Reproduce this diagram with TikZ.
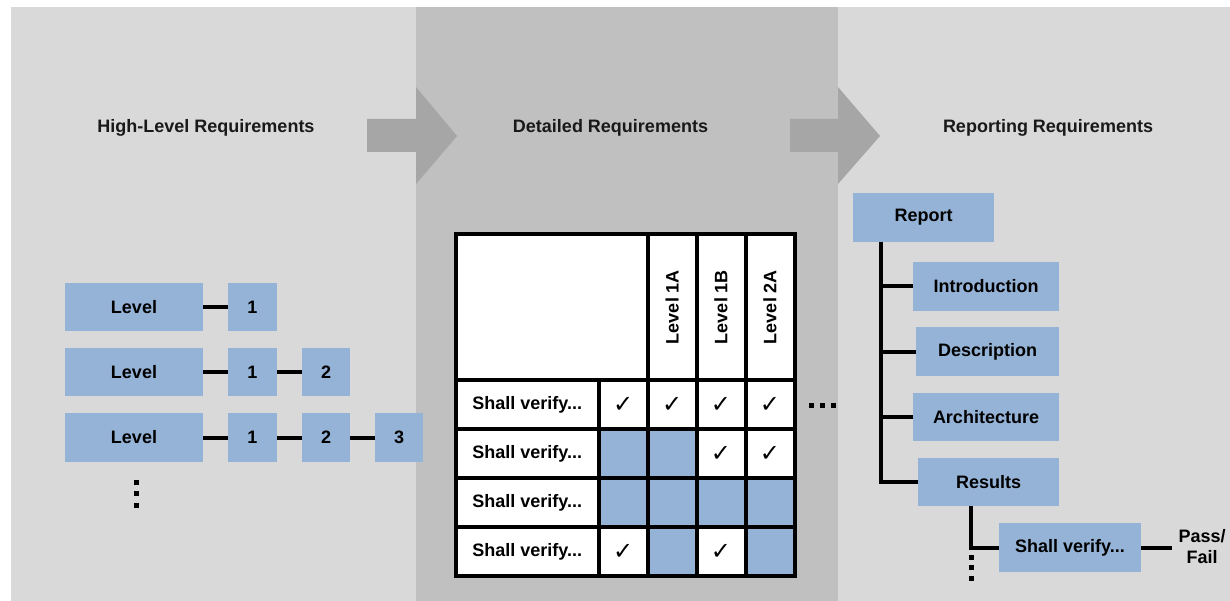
\documentclass[tikz,border=0pt]{standalone}
\usepackage{fontspec}
\setmainfont{Liberation Sans}
\newfontfamily\checkfont{DejaVu Sans}

\definecolor{panellight}{RGB}{217,217,217}
\definecolor{paneldark}{RGB}{192,192,192}
\definecolor{flowgray}{RGB}{166,166,166}
\definecolor{boxblue}{RGB}{149,179,215}

\newcommand\lab{\fontsize{18}{22}\selectfont\bfseries}
\newcommand\tickmark{{\checkfont\bfseries\fontsize{24}{24}\selectfont ✓}}

\tikzset{
  box/.style={fill=boxblue, inner sep=0pt, font=\lab, text=black},
  conn/.style={line width=4pt, black},
  title/.style={font=\lab, text=black!90},
  cell/.style={draw=black, line width=4pt, fill=white, inner sep=0pt, font=\lab},
  bluecell/.style={cell, fill=boxblue},
  vlabel/.style={font=\lab, rotate=90},
  dotsq/.style={fill=black, minimum size=5pt, inner sep=0pt},
}

\begin{document}
\begin{tikzpicture}[x=1pt, y=-1pt]
\useasboundingbox (0,0) rectangle (1230,601);

% three stage panels
\fill[panellight] (11,7) rectangle (416,601);
\fill[paneldark] (416,7) rectangle (838,601);
\fill[panellight] (838,7) rectangle (1230,601);

% block arrows between stages
\fill[flowgray] (367,119) -- (416,119) -- (416,87) -- (457,136) -- (416,184) -- (416,152) -- (367,152) -- cycle;
\fill[flowgray] (790,119) -- (838,119) -- (838,87) -- (880,136) -- (838,184) -- (838,152) -- (790,152) -- cycle;

% stage titles
\node[title] (t1) at (206,127.5) {High-Level Requirements};
\node[title] (t2) at (610.5,127.5) {Detailed Requirements};
\node[title] (t3) at (1048,127.5) {Reporting Requirements};

% ---- high-level requirement chains
\node[box, minimum width=138pt, minimum height=48pt] (lv1) at (134,307) {Level};
\node[box, minimum width=49pt, minimum height=48pt] (a1) at (252.5,307) {1};

\node[box, minimum width=138pt, minimum height=48pt] (lv2) at (134,372) {Level};
\node[box, minimum width=49pt, minimum height=48pt] (b1) at (252.5,372) {1};
\node[box, minimum width=48pt, minimum height=48pt] (b2) at (326,372) {2};

\node[box, minimum width=138pt, minimum height=49pt] (lv3) at (134,437.5) {Level};
\node[box, minimum width=49pt, minimum height=49pt] (c1) at (252.5,437.5) {1};
\node[box, minimum width=48pt, minimum height=49pt] (c2) at (326,437.5) {2};
\node[box, minimum width=48pt, minimum height=49pt] (c3) at (399,437.5) {3};

\draw[conn] (lv1.east) -- (a1.west);
\draw[conn] (lv2.east) -- (b1.west);
\draw[conn] (b1.east) -- (b2.west);
\draw[conn] (lv3.east) -- (c1.west);
\draw[conn] (c1.east) -- (c2.west);
\draw[conn] (c2.east) -- (c3.west);

\node[dotsq] (ld1) at (136.5,482.5) {};
\node[dotsq] (ld2) at (136.5,493.5) {};
\node[dotsq] (ld3) at (136.5,505) {};

% ---- detailed requirements matrix
\node[cell, minimum width=192pt, minimum height=146pt] (hd0) at (552,307) {};
\node[cell, minimum width=48.5pt, minimum height=146pt] (hd1) at (672.25,307) {};
\node[cell, minimum width=49pt, minimum height=146pt] (hd2) at (721,307) {};
\node[cell, minimum width=49pt, minimum height=146pt] (hd3) at (770,307) {};
\node[vlabel] at (hd1) {Level 1A};
\node[vlabel] at (hd2) {Level 1B};
\node[vlabel] at (hd3) {Level 2A};

\foreach \r/\y in {1/404.5, 2/453.5, 3/502.5, 4/551.5}
  \node[cell, minimum width=142.5pt, minimum height=49pt] (r\r-0) at (527.25,\y) {Shall verify...};

% row 1
\node[cell, minimum width=49.5pt, minimum height=49pt] (r1-1) at (623.25,404.5) {\tickmark};
\node[cell, minimum width=48.5pt, minimum height=49pt] (r1-2) at (672.25,404.5) {\tickmark};
\node[cell, minimum width=49pt, minimum height=49pt] (r1-3) at (721,404.5) {\tickmark};
\node[cell, minimum width=49pt, minimum height=49pt] (r1-4) at (770,404.5) {\tickmark};
% row 2
\node[bluecell, minimum width=49.5pt, minimum height=49pt] (r2-1) at (623.25,453.5) {};
\node[bluecell, minimum width=48.5pt, minimum height=49pt] (r2-2) at (672.25,453.5) {};
\node[cell, minimum width=49pt, minimum height=49pt] (r2-3) at (721,453.5) {\tickmark};
\node[cell, minimum width=49pt, minimum height=49pt] (r2-4) at (770,453.5) {\tickmark};
% row 3
\node[bluecell, minimum width=49.5pt, minimum height=49pt] (r3-1) at (623.25,502.5) {};
\node[bluecell, minimum width=48.5pt, minimum height=49pt] (r3-2) at (672.25,502.5) {};
\node[bluecell, minimum width=49pt, minimum height=49pt] (r3-3) at (721,502.5) {};
\node[bluecell, minimum width=49pt, minimum height=49pt] (r3-4) at (770,502.5) {};
% row 4
\node[cell, minimum width=49.5pt, minimum height=49pt] (r4-1) at (623.25,551.5) {\tickmark};
\node[bluecell, minimum width=48.5pt, minimum height=49pt] (r4-2) at (672.25,551.5) {};
\node[cell, minimum width=49pt, minimum height=49pt] (r4-3) at (721,551.5) {\tickmark};
\node[bluecell, minimum width=49pt, minimum height=49pt] (r4-4) at (770,551.5) {};

\node[dotsq] (md1) at (811,405) {};
\node[dotsq] (md2) at (822,405) {};
\node[dotsq] (md3) at (833,405) {};

% ---- report outline
\node[box, minimum width=141pt, minimum height=49pt] (report) at (923.5,217.5) {Report};
\node[box, minimum width=146pt, minimum height=49pt] (intro) at (986,286.5) {Introduction};
\node[box, minimum width=143pt, minimum height=49pt] (desc) at (987.5,351.5) {Description};
\node[box, minimum width=146pt, minimum height=48pt] (arch) at (986,417) {Architecture};
\node[box, minimum width=141pt, minimum height=48pt] (results) at (988.5,482) {Results};
\node[box, minimum width=142pt, minimum height=49pt] (shall) at (1070,547.5) {Shall verify...};
\node[font=\lab, align=center, inner sep=6pt] (pf) at (1202,547) {Pass/\\[-1pt]Fail};

\coordinate (trunk) at (881,0);
\coordinate (branch) at (971,0);
\draw[conn] (report.south -| trunk) -- (results.west -| trunk) -- (results.west);
\draw[conn] (intro.west -| trunk) -- (intro.west);
\draw[conn] (desc.west -| trunk) -- (desc.west);
\draw[conn] (arch.west -| trunk) -- (arch.west);
\draw[conn] (results.south -| branch) -- (shall.west -| branch) -- (shall.west);
\draw[conn] (shall.east) -- (pf.west |- shall.east);

\node[dotsq] (rd1) at (971,557) {};
\node[dotsq] (rd2) at (971,567) {};
\node[dotsq] (rd3) at (971,578) {};
\end{tikzpicture}
\end{document}
